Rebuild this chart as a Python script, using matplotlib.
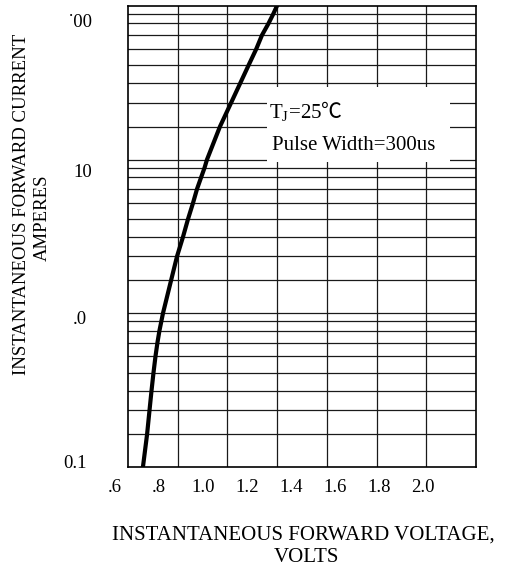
import numpy as np
import matplotlib
matplotlib.use('Agg')
import matplotlib.pyplot as plt
from matplotlib.patches import Rectangle
from matplotlib.transforms import Affine2D, blended_transform_factory

# 字体: Times 风格
plt.rcParams['font.family'] = ['Liberation Serif', 'DejaVu Serif', 'Noto Sans CJK SC']
plt.rcParams['mathtext.fontset'] = 'custom'
plt.rcParams['mathtext.rm'] = 'Liberation Serif'
plt.rcParams['mathtext.sf'] = 'Noto Sans CJK SC'

# 正向特性曲线
current_a = [0.1, 0.2, 0.3, 0.4, 0.5, 0.6, 0.7, 0.8, 1, 2, 3, 4, 5, 6, 7, 8, 9, 10,
             20, 30, 40, 50, 60, 70, 80, 90, 100]
voltage_v = [0.727, 0.746, 0.757, 0.766, 0.775, 0.784, 0.793, 0.802, 0.818, 0.855,
             0.882, 0.909, 0.932, 0.955, 0.973, 0.992, 1.007, 1.018,
             1.077, 1.128, 1.169, 1.207, 1.242, 1.268, 1.298, 1.319, 1.336]

x_ticks = [0.6, 0.8, 1.0, 1.2, 1.4, 1.6, 1.8, 2.0]
x_tick_labels = ['.6', '.8', '1.0', '1.2', '1.4', '1.6', '1.8', '2.0']
y_ticks = [0.1, 1, 10, 100]
y_tick_labels = ['0.1', '.0', '10', '˙00']

# 纵轴刻度纸: 每一个十倍程内的分格位置 (不是标准对数)
mant = np.arange(1, 11)
mant_pos = [0, 0.215, 0.371, 0.497, 0.614, 0.72, 0.81, 0.887, 0.947, 1]


def fwd(v):
    v = np.asarray(v, dtype=float)
    with np.errstate(divide='ignore', invalid='ignore'):
        lg = np.log10(np.where(v > 0, v, np.nan))
    d = np.floor(lg)
    return d + np.interp(10 ** (lg - d), mant, mant_pos)


def inv(p):
    p = np.asarray(p, dtype=float)
    d = np.floor(p)
    return np.interp(p - d, mant_pos, mant) * 10 ** d


W, H = 511, 577
fig = plt.figure(figsize=(W / 100, H / 100), dpi=100)
ax = fig.add_axes([128 / W, 1 - 467 / H, 348 / W, 461 / H])
ax.set_yscale('function', functions=(fwd, inv))
xmin, xmax = 0.6 + 13 / 220, 0.6 + 361 / 220
ax.set_xlim(xmin, xmax)
ax.set_ylim(0.1, 100)
ax.set_xticks([])
ax.set_yticks([])
ax.minorticks_off()
for s in ax.spines.values():
    s.set_linewidth(1.2)

# 网格
grid_y = [m * 10.0 ** d for d in (-1, 0, 1) for m in range(1, 10)][1:]
for v in grid_y:
    ax.axhline(v, color='#1a1a1a', lw=0.9, zorder=1)
for v in np.linspace(xmin, xmax, 8)[1:-1]:
    ax.axvline(v, color='#1a1a1a', lw=0.9, zorder=1)

# 说明文字的白底
ax.add_patch(Rectangle((0.399, 0.662), 0.526, 0.163, transform=ax.transAxes,
                       facecolor='white', edgecolor='none', zorder=1.5))
ax.text(0.405, 0.757, r'T$_{\mathrm{J}}$=25$\mathsf{℃}$', transform=ax.transAxes,
        fontsize=15, va='baseline', ha='left', zorder=4)
ax.text(0.414, 0.688, 'Pulse Width=300us', transform=ax.transAxes,
        fontsize=15, va='baseline', ha='left', zorder=4)

ax.plot(voltage_v, current_a, color='black', lw=3, zorder=3,
        solid_joinstyle='round')

# 刻度标签
tx = blended_transform_factory(ax.transData, ax.transAxes) + Affine2D().translate(0, -25)
for v, lab in zip(x_ticks, x_tick_labels):
    ax.text(v, 0, lab, transform=tx, ha='center', va='baseline', fontsize=13.5)

y_dx = [-41, -41, -36, -35]
y_dy = [-1, -11, -17, -21]
for v, lab, dx, dy in zip(y_ticks, y_tick_labels, y_dx, y_dy):
    ty = blended_transform_factory(ax.transAxes, ax.transData) + Affine2D().translate(dx, dy)
    ax.text(0, v, lab, transform=ty, ha='right', va='baseline', fontsize=13.5)

# 坐标轴标题
fig.text(303 / W, 1 - 540 / H, 'INSTANTANEOUS FORWARD VOLTAGE,', ha='center',
         va='baseline', fontsize=15)
fig.text(306 / W, 1 - 562 / H, 'VOLTS', ha='center', va='baseline', fontsize=15)
fig.text(22 / W, 1 - 204 / H, 'INSTANTANEOUS FORWARD CURRENT', rotation=90,
         ha='center', va='center', fontsize=13.5)
fig.text(42 / W, 1 - 218 / H, 'AMPERES', rotation=90, ha='center', va='center',
         fontsize=13.5)

fig.savefig('out.png', dpi=100)
